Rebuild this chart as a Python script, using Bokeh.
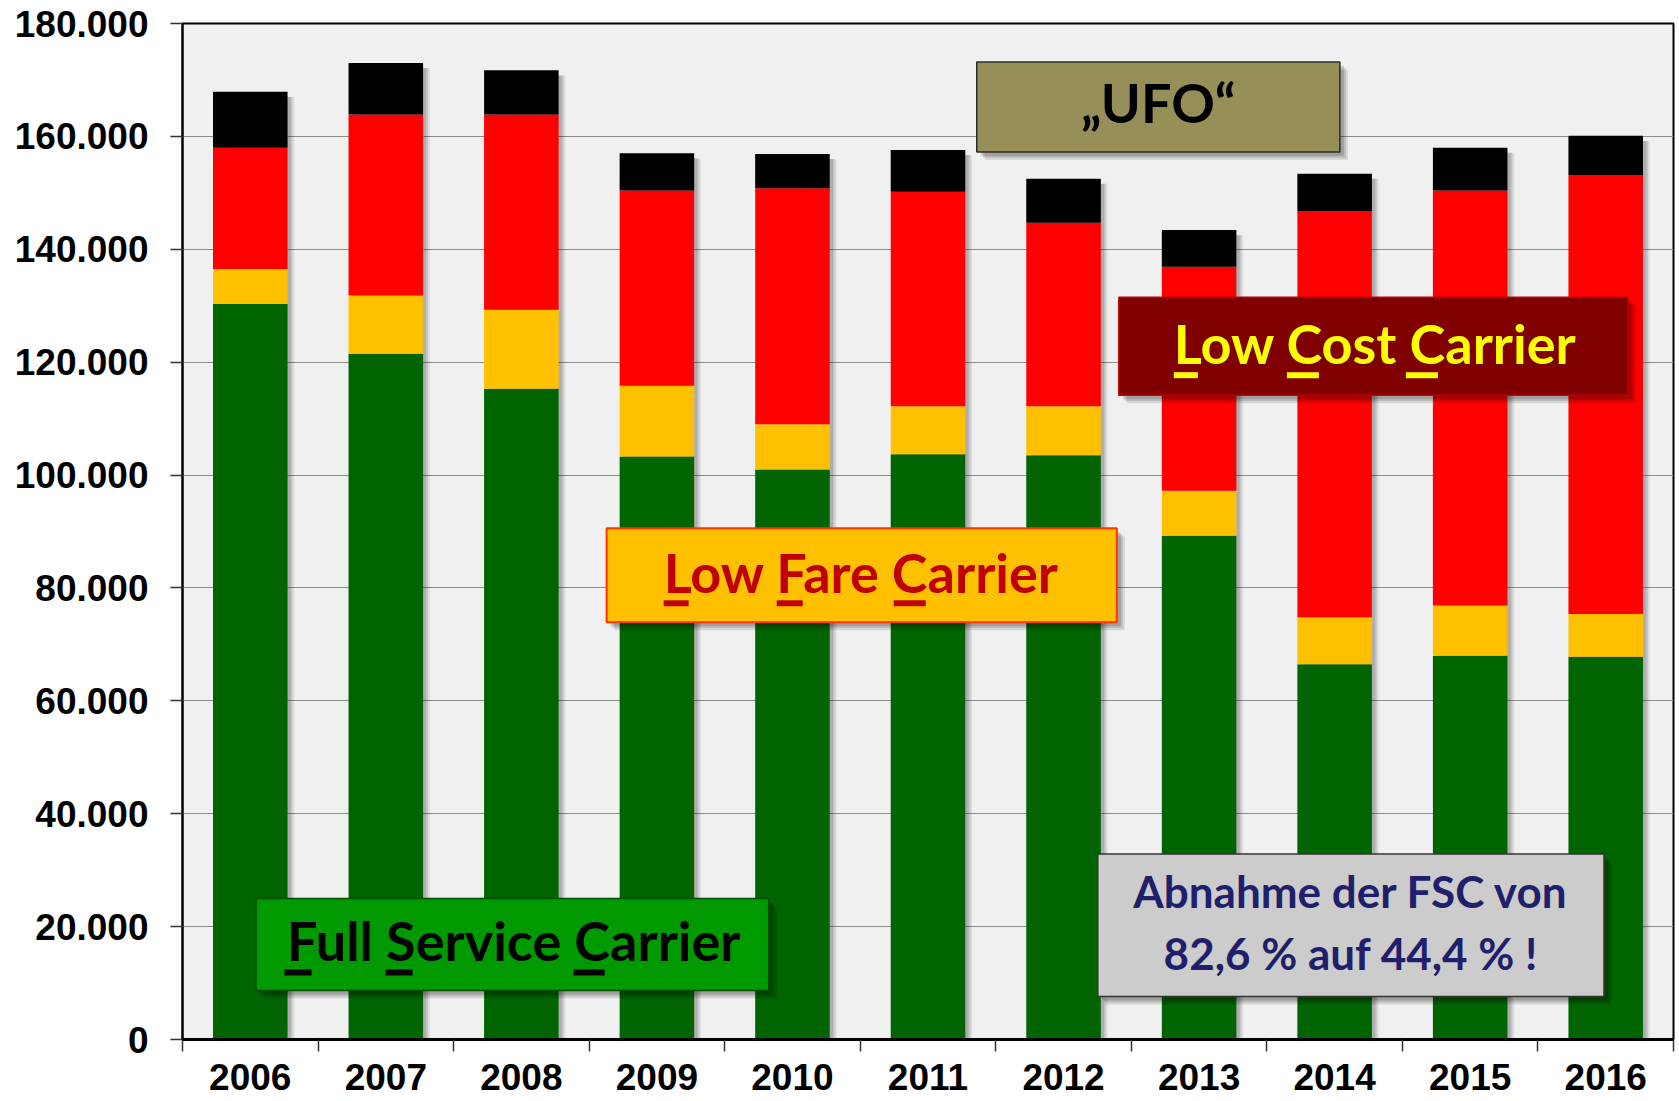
from bokeh.plotting import figure
from bokeh.models import FixedTicker, Label, Range1d, BoxAnnotation, ColumnDataSource
from bokeh.embed import file_html
from bokeh.resources import INLINE

# ---------------- data ----------------
years = ["2006", "2007", "2008", "2009", "2010", "2011", "2012", "2013", "2014", "2015", "2016"]
full_service = [130300, 121500, 115300, 103300, 101000, 103700, 103500, 89250, 66500, 68000, 67800]
low_fare = [6200, 10300, 14000, 12500, 8000, 8500, 8700, 7950, 8300, 8900, 7600]
low_cost = [21500, 32100, 34600, 34600, 41800, 38000, 32500, 39700, 72000, 73500, 77700]
ufo = [9900, 9100, 7800, 6600, 6100, 7400, 7800, 6500, 6600, 7600, 7000]
y_ticks = [0, 20000, 40000, 60000, 80000, 100000, 120000, 140000, 160000, 180000]
y_tick_labels = ["0", "20.000", "40.000", "60.000", "80.000", "100.000",
                 "120.000", "140.000", "160.000", "180.000"]

series = ["fsc", "lfc", "lcc", "ufo"]
colors = ["#006400", "#FFC000", "#FF0000", "#000000"]

xs = list(range(len(years)))
totals = [a + b + c + d for a, b, c, d in zip(full_service, low_fare, low_cost, ufo)]
source = ColumnDataSource(dict(x=xs, fsc=full_service, lfc=low_fare, lcc=low_cost, ufo=ufo, total=totals))

BAR_W = 0.55

p = figure(width=1678, height=1100, output_backend="svg", toolbar_location=None,
           x_range=Range1d(-0.5, len(years) - 0.5), y_range=Range1d(0, 180000),
           min_border_left=182, min_border_right=5, min_border_top=23, min_border_bottom=61)
p.background_fill_color = "#F0F0F0"
p.border_fill_color = "white"
p.outline_line_color = "black"
p.outline_line_width = 2

# grid
p.xgrid.grid_line_color = None
p.ygrid.grid_line_color = "#8C8C8C"
p.ygrid.grid_line_width = 1

# y axis
p.yaxis.ticker = FixedTicker(ticks=y_ticks)
p.yaxis.major_label_overrides = {t: l for t, l in zip(y_ticks, y_tick_labels)}
p.yaxis.major_label_text_font = "Liberation Sans"
p.yaxis.major_label_text_font_style = "bold"
p.yaxis.major_label_text_font_size = "37px"
p.yaxis.major_label_text_color = "black"
p.yaxis.major_label_standoff = 22
p.yaxis.major_tick_out = 12
p.yaxis.major_tick_in = 0
p.yaxis.major_tick_line_color = "#333333"
p.yaxis.major_tick_line_width = 1.5
p.yaxis.minor_tick_line_color = None
p.yaxis.axis_line_color = "black"
p.yaxis.axis_line_width = 2

# x axis: labels at centers, ticks at boundaries (minor ticks)
p.xaxis.ticker = FixedTicker(ticks=xs, minor_ticks=[i - 0.5 for i in range(len(years) + 1)])
p.xaxis.major_label_overrides = {i: y for i, y in zip(xs, years)}
p.xaxis.major_label_text_font = "Liberation Sans"
p.xaxis.major_label_text_font_style = "bold"
p.xaxis.major_label_text_font_size = "37px"
p.xaxis.major_label_text_color = "black"
p.xaxis.major_label_standoff = 12
p.xaxis.major_tick_out = 0
p.xaxis.major_tick_in = 0
p.xaxis.major_tick_line_color = None
p.xaxis.minor_tick_out = 12
p.xaxis.minor_tick_in = 0
p.xaxis.minor_tick_line_color = "#333333"
p.xaxis.minor_tick_line_width = 1.5
p.xaxis.axis_line_color = "black"
p.xaxis.axis_line_width = 3

# bar shadows
for off, alpha in [(0.05, 0.08), (0.037, 0.10), (0.024, 0.12)]:
    shadow_src = ColumnDataSource(dict(x=[x + off for x in xs], top=[t - 900 for t in totals]))
    p.vbar(x="x", top="top", bottom=0, width=BAR_W, source=shadow_src,
           fill_color="black", fill_alpha=alpha, line_color=None)

p.vbar_stack(series, x="x", width=BAR_W, color=colors, line_color=None, source=source)


# --------------- annotation boxes (positions in reference pixels) ---------------
def X(px):
    return (px - 182) / 135.5 - 0.5


def Y(py):
    return (1039 - py) * 177.25


def box(l, t, r, b, fill, line, lw=1.5):
    for d, a in [(8, 0.10), (6, 0.12), (4, 0.15)]:
        p.add_layout(BoxAnnotation(left=X(l + d), right=X(r + d), top=Y(t + d), bottom=Y(b + d),
                                   fill_color="black", fill_alpha=a, line_color=None,
                                   level="annotation"))
    p.add_layout(BoxAnnotation(left=X(l), right=X(r), top=Y(t), bottom=Y(b),
                               fill_color=fill, fill_alpha=1, line_color=line, line_width=lw,
                               line_alpha=1, level="annotation"))


def underline(l, r, t, b, color):
    p.add_layout(BoxAnnotation(left=X(l), right=X(r), top=Y(t), bottom=Y(b),
                               fill_color=color, fill_alpha=1, line_color=None, level="annotation"))


def label(text, px, baseline_py, size, color, align="left"):
    # compensate the renderer's baseline shift
    py = baseline_py - 0.44 * size
    p.add_layout(Label(x=X(px), y=Y(py), text=text, text_font="Lato", text_font_style="bold",
                       text_font_size=f"{size}px", text_color=color, text_align=align,
                       text_baseline="alphabetic"))


# "UFO"
box(976, 62, 1339, 152, "#978F58", "#2B2B2B")
label("\u201eUFO\u201c", 1157.5, 126, 54, "black", "center")

# Low Cost Carrier
box(1118, 297, 1627, 395, "#800000", "#C00000")
label("Low Cost Carrier", 1173, 367.5, 54, "#FFFF00")
for l, r in [(1173, 1197), (1286, 1318), (1405, 1437)]:
    underline(l, r, 372, 378, "#FFFF00")

# Low Fare Carrier
box(606, 528, 1116, 622, "#FFC000", "#FF3300", 2)
label("Low Fare Carrier", 663, 596, 54, "#C00000")
for l, r in [(663, 688), (776, 802), (893, 925)]:
    underline(l, r, 600, 606, "#C00000")

# Full Service Carrier
box(255.5, 898, 768, 990, "#009900", "#004D00")
label("Full Service Carrier", 286.5, 964, 54, "black")
for l, r in [(284, 311), (385, 412), (573, 604)]:
    underline(l, r, 969, 975, "black")

# Abnahme
box(1097, 853.5, 1603, 996, "#CCCCCC", "#333333")
label("Abnahme der FSC von", 1350, 910, 44, "#1F1F6B", "center")
label("82,6 % auf 44,4 % !", 1350, 972, 44, "#1F1F6B", "center")

open("out.html", "w").write(file_html(p, INLINE))
